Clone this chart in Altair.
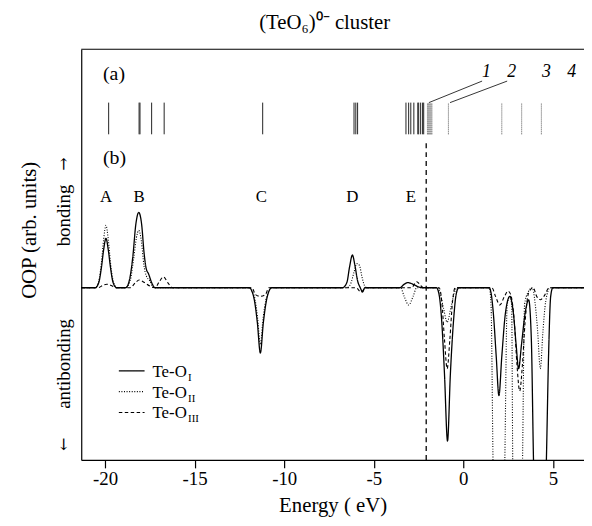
import altair as alt
import pandas as pd

FONT = "Liberation Serif"
ARROW_FONT = "DejaVu Serif"

# ---------------- data ----------------
# OOP curves: (energy eV, OOP arb. units)
OOP_I = [(-21.33, 0),
         (-20.55, 0), (-20.35, 0.03), (-20.2, 0.12), (-20.08, 0.22), (-19.95, 0.287), (-19.82, 0.22), (-19.7, 0.12), (-19.55, 0.03), (-19.35, 0),
         (-18.85, 0), (-18.65, 0.04), (-18.45, 0.18), (-18.28, 0.37), (-18.12, 0.437), (-17.96, 0.37), (-17.82, 0.2), (-17.7, 0.11), (-17.57, 0.08), (-17.4, 0.03), (-17.2, 0),
         (-11.95, 0), (-11.8, -0.02), (-11.65, -0.08), (-11.5, -0.2), (-11.33, -0.379), (-11.16, -0.2), (-11.0, -0.08), (-10.85, -0.02), (-10.7, 0),
         (-6.75, 0), (-6.5, 0.03), (-6.35, 0.12), (-6.19, 0.19), (-6.05, 0.13), (-5.9, 0.04), (-5.75, 0.0), (-5.62, -0.025), (-5.5, 0),
         (-3.55, 0), (-3.3, 0.02), (-3.1, 0.03), (-2.8, 0.02), (-2.5, 0.005), (-2.3, 0),
         (-1.5, 0), (-1.35, -0.04), (-1.2, -0.2), (-1.05, -0.5), (-0.88, -0.89), (-0.72, -0.5), (-0.55, -0.2), (-0.4, -0.04), (-0.25, 0),
         (1.45, 0), (1.55, -0.03), (1.68, -0.15), (1.84, -0.4), (1.99, -0.626), (2.15, -0.4), (2.35, -0.15), (2.6, -0.05),
         (2.8, -0.15), (2.95, -0.33), (3.09, -0.47), (3.25, -0.33), (3.45, -0.15), (3.65, -0.07),
         (3.8, -0.3), (3.92, -1.0), (4.28, -2.0), (4.64, -1.0), (4.76, -0.4), (4.88, -0.05), (5.0, 0),
         (6.74, 0)]

OOP_II = [(-21.33, 0),
          (-20.55, 0), (-20.35, 0.04), (-20.2, 0.15), (-20.08, 0.28), (-19.95, 0.362), (-19.82, 0.28), (-19.7, 0.15), (-19.55, 0.04), (-19.35, 0),
          (-18.85, 0), (-18.6, 0.04), (-18.4, 0.17), (-18.25, 0.29), (-18.12, 0.333), (-17.97, 0.27), (-17.83, 0.13), (-17.7, 0.07), (-17.5, 0.04), (-17.3, 0),
          (-11.95, 0), (-11.8, -0.02), (-11.62, -0.07), (-11.48, -0.18), (-11.33, -0.33), (-11.18, -0.18), (-11.02, -0.07), (-10.85, -0.02), (-10.7, 0),
          (-6.5, 0), (-6.3, 0.02), (-6.1, 0.09), (-5.95, 0.14), (-5.8, 0.13), (-5.65, 0.06), (-5.5, 0.01), (-5.35, 0),
          (-3.5, 0), (-3.3, -0.05), (-3.05, -0.1), (-2.8, -0.05), (-2.6, 0),
          (-1.45, 0), (-1.3, -0.03), (-1.1, -0.12), (-0.9, -0.2), (-0.7, -0.12), (-0.5, -0.03), (-0.35, 0),
          (1.45, 0), (1.55, -0.1), (1.66, -1.0), (1.99, -3.0), (2.32, -1.0), (2.45, -0.1), (2.6, -0.05),
          (2.7, -0.1), (2.76, -1.0), (3.04, -3.0), (3.31, -1.0), (3.42, -0.1), (3.6, -0.03),
          (3.85, 0), (4.0, -0.08), (4.15, -0.25), (4.3, -0.47), (4.45, -0.25), (4.6, -0.08), (4.85, 0),
          (6.74, 0)]

OOP_III = [(-21.33, 0),
           (-20.4, 0), (-20.1, 0.015), (-19.9, 0.02), (-19.6, 0.01), (-19.4, 0),
           (-18.6, 0), (-18.3, 0.03), (-18.1, 0.045), (-17.8, 0.03), (-17.5, 0.01),
           (-17.2, 0.0), (-17.0, 0.03), (-16.74, 0.063), (-16.5, 0.03), (-16.25, 0),
           (-11.8, 0), (-11.6, -0.04), (-11.33, -0.05), (-11.05, -0.04), (-10.85, 0),
           (-6.0, 0), (-5.7, -0.025), (-5.45, 0),
           (-2.9, 0), (-2.6, 0.035), (-2.35, 0.01), (-2.2, 0),
           (-1.35, 0), (-1.2, -0.08), (-1.05, -0.3), (-0.9, -0.47), (-0.75, -0.3), (-0.6, -0.08), (-0.45, 0),
           (1.6, 0), (1.8, -0.05), (2.04, -0.1), (2.3, -0.05), (2.5, -0.02),
           (2.65, -0.04), (2.85, -0.2), (3.0, -0.45), (3.15, -0.6), (3.3, -0.45), (3.45, -0.2), (3.65, -0.03),
           (3.9, 0), (4.1, -0.05), (4.3, -0.07), (4.5, -0.05), (4.8, 0),
           (6.74, 0)]

# molecular levels, panel (a)
OCC_LEVELS = [-19.8, -18.1, -18.05, -17.4, -16.7, -11.2, -6.1, -6.0, -5.9,
              -3.2, -3.05, -2.93, -2.76, -2.54, -2.49, -2.38, -2.27, -2.21]
UNOCC_LEVELS = [-2.0, -1.95, -1.9, -1.85, -1.8, -1.75, -0.83, 2.15, 3.26, 4.36]
E_FERMI = -2.07

PEAK_LABELS = ["A", "B", "C", "D", "E"]
PEAK_LABEL_E = [-19.95, -18.1, -11.27, -6.2, -2.93]
LUMO_LABELS = ["1", "2", "3", "4"]
LUMO_LABEL_E = [1.3, 2.7, 4.65, 6.05]

SERIES = ["Te-O_I", "Te-O_II", "Te-O_III"]
SUBS = ["I", "II", "III"]
TITLE = "(TeO\u2086)\u2070\u207b cluster"

# ---------------- layout constants ----------------
X_MIN, X_MAX = -21.33, 6.74
Y_MIN, Y_MAX = -1.0, 1.385
W, H = 508, 415
LEVEL_LO, LEVEL_HI = 0.891, 1.075
PEAK_LABEL_Y = 0.529
LUMO_LABEL_Y = 1.253

xscale = alt.Scale(domain=[X_MIN, X_MAX], nice=False, zero=False)
yscale = alt.Scale(domain=[Y_MIN, Y_MAX], nice=False, zero=False)
XAXIS = alt.Axis(values=[-20, -15, -10, -5, 0, 5], labelExpr="datum.value + ''",
                 tickSize=8, tickWidth=1.2, domainWidth=1.2, labelPadding=2,
                 labelFontSize=19, labelFont=FONT, title="Energy ( eV)",
                 titleFont=FONT, titleFontSize=21, titleFontWeight="normal",
                 titlePadding=6, grid=False, domainColor="black", tickColor="black",
                 labelColor="black", titleColor="black")
YAXIS = alt.Axis(title=None, labels=False, ticks=False, grid=False,
                 domainColor="black", domainWidth=1.2)
ONE = pd.DataFrame({"k": [0]})

DASHES = [[1, 0], [1, 1.6], [3.5, 2.5]]
WIDTHS = [1.3, 1.1, 1.1]


def X(f):
    return alt.X(f, scale=xscale, axis=XAXIS)


def Y(f):
    return alt.Y(f, scale=yscale, axis=YAXIS)


def curve_df(pairs):
    return pd.DataFrame({"E": [p[0] for p in pairs], "V": [p[1] for p in pairs]})


def txt(s, x, y, size, font=FONT, **kw):
    return alt.Chart(ONE).mark_text(text=s, font=font, fontSize=size, color="black", **kw).encode(
        x=alt.value(x), y=alt.value(y))


layers = []

for i, c in enumerate([OOP_I, OOP_II, OOP_III]):
    layers.append(
        alt.Chart(curve_df(c)).mark_line(interpolate="monotone", clip=True, color="black",
                                         strokeWidth=WIDTHS[i], strokeDash=DASHES[i]).encode(
            x=X("E:Q"), y=Y("V:Q"))
    )

# energy levels
occ_df = pd.DataFrame({"E": OCC_LEVELS})
occ_df["lo"], occ_df["hi"] = LEVEL_LO, LEVEL_HI
unocc_df = pd.DataFrame({"E": UNOCC_LEVELS})
unocc_df["lo"], unocc_df["hi"] = LEVEL_LO, LEVEL_HI
layers.append(alt.Chart(occ_df).mark_rule(color="#222222", strokeWidth=1).encode(
    x=X("E:Q"), y=Y("lo:Q"), y2="hi:Q"))
layers.append(alt.Chart(unocc_df).mark_rule(color="#555555", strokeWidth=1, strokeDash=[1, 1]).encode(
    x=X("E:Q"), y=Y("lo:Q"), y2="hi:Q"))

# Fermi level dashed line
fermi_df = pd.DataFrame({"E": [E_FERMI], "lo": [Y_MIN], "hi": [LEVEL_LO - 0.03]})
layers.append(alt.Chart(fermi_df).mark_rule(color="black", strokeWidth=1.3, strokeDash=[5, 4]).encode(
    x=X("E:Q"), y=Y("lo:Q"), y2="hi:Q"))

# leader lines for labels 1 and 2
lead_df = pd.DataFrame({"x1": [1.05, 2.45], "x2": [-1.92, -0.74],
                        "y1": [1.2, 1.2], "y2": [LEVEL_HI, LEVEL_HI]})
layers.append(alt.Chart(lead_df).mark_rule(color="black", strokeWidth=0.8).encode(
    x=X("x1:Q"), x2="x2:Q", y=Y("y1:Q"), y2="y2:Q"))

# peak labels A-E
pk_df = pd.DataFrame({"E": PEAK_LABEL_E, "t": PEAK_LABELS})
pk_df["y"] = PEAK_LABEL_Y
layers.append(alt.Chart(pk_df).mark_text(
    font=FONT, fontSize=17, color="black", baseline="middle").encode(
    x=X("E:Q"), y=Y("y:Q"), text="t:N"))

# labels 1-4
lu_df = pd.DataFrame({"E": LUMO_LABEL_E, "t": LUMO_LABELS})
lu_df["y"] = LUMO_LABEL_Y
layers.append(alt.Chart(lu_df).mark_text(
    font=FONT, fontSize=18, fontStyle="italic", color="black", baseline="middle").encode(
    x=X("E:Q"), y=Y("y:Q"), text="t:N"))

# top frame line
layers.append(alt.Chart(ONE).mark_rule(color="black", strokeWidth=1.2).encode(
    x=alt.value(0), x2=alt.value(W), y=alt.value(0)))

# panel labels
layers.append(txt("(a)", 22, 25, 20, align="left", baseline="middle"))
layers.append(txt("(b)", 22, 110, 20, align="left", baseline="middle"))

# title
layers.append(txt(TITLE, 246, -20, 21, align="center", baseline="alphabetic"))

# y side labels
layers.append(txt("OOP (arb. units)", -52, 183, 21, angle=270, align="center", baseline="middle"))
layers.append(txt("bonding", -17, 168, 19, angle=270, align="center", baseline="middle"))
layers.append(txt("\u2192", -17, 116, 16, font=ARROW_FONT, angle=270, align="center", baseline="middle"))
layers.append(txt("antibonding", -17, 318, 19, angle=270, align="center", baseline="middle"))
layers.append(txt("\u2190", -17, 399, 16, font=ARROW_FONT, angle=270, align="center", baseline="middle"))

# legend
for i, name in enumerate(SERIES):
    yy = 325 + 21 * i
    layers.append(alt.Chart(ONE).mark_rule(color="black", strokeWidth=WIDTHS[i], strokeDash=DASHES[i]).encode(
        x=alt.value(38), x2=alt.value(64), y=alt.value(yy)))
    layers.append(txt("Te-O", 72, yy + 6, 17, align="left", baseline="alphabetic"))
    layers.append(txt(SUBS[i], 108, yy + 10, 11, align="left", baseline="alphabetic"))

chart = alt.layer(*layers).properties(
    width=W, height=H,
    autosize=alt.AutoSizeParams(type="none"),
    padding={"left": 74, "top": 39, "right": 0, "bottom": 56},
).configure_view(stroke=None)

chart.save("out.html", embed_options={"renderer": "svg", "actions": False})
